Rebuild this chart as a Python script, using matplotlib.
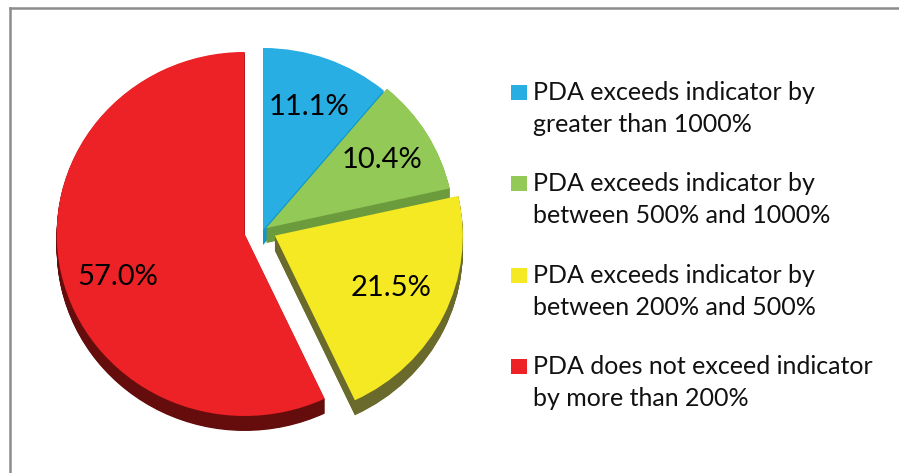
import matplotlib
matplotlib.use("Agg")
import matplotlib.pyplot as plt
from matplotlib.lines import Line2D
from matplotlib.patches import Rectangle

# ---- data ----
shares = [11.1, 10.4, 21.5, 57.0]
labels = [
    "PDA exceeds indicator by\ngreater than 1000%",
    "PDA exceeds indicator by\nbetween 500% and 1000%",
    "PDA exceeds indicator by\nbetween 200% and 500%",
    "PDA does not exceed indicator\nby more than 200%",
]
explode = [0.0, 0.02, 0.07, 0.1]

top_colors = ["#29AEE4", "#92C957", "#F4E923", "#EC2227"]
side_colors = ["#0D97CC", "#6B9B3C", "#6A6A2C", "#650D0D"]

W, H = 899, 473
fig = plt.figure(figsize=(W / 100, H / 100), dpi=100)
fig.patch.set_facecolor("white")

# pie axes geometry (pixel scale per unit)
sx, sy = 188.0, 182.0
cx, cy = 263.0, 473 - 230.0
xl = (-1.35, 1.35)
yl = (-1.3, 1.25)
left = cx + xl[0] * sx
bottom = cy + yl[0] * sy
ax = fig.add_axes([left / W, bottom / H, (xl[1] - xl[0]) * sx / W, (yl[1] - yl[0]) * sy / H])

depth = 15.0 / sy
N = 24
for k in range(N, 0, -1):
    ax.pie(shares, explode=explode, colors=side_colors, startangle=90,
           counterclock=False, center=(0, -depth * k / N), radius=1.0,
           wedgeprops=dict(linewidth=0))

wedges, texts, autotexts = ax.pie(
    shares, explode=explode, colors=top_colors, startangle=90,
    counterclock=False, center=(0, 0), radius=1.0,
    autopct="%.1f%%", pctdistance=0.72,
    wedgeprops=dict(linewidth=0),
    textprops=dict(fontsize=21, family=["Lato", "DejaVu Sans"], color="black"))
# small nudges to match the label placement of the original
px, py = autotexts[3].get_position()
autotexts[3].set_position((px + 0.03, py - 0.08))
px, py = autotexts[2].get_position()
autotexts[2].set_position((px - 0.03, py + 0.03))

ax.set_aspect("auto")
ax.set_xlim(*xl)
ax.set_ylim(*yl)
ax.axis("off")

# legend (manual)
font = ["Lato", "DejaVu Sans"]
entry_base = [100, 191, 283, 374]
line_gap = 32
for i, lab in enumerate(labels):
    lines = lab.split("\n")
    for j, ln in enumerate(lines):
        fig.text(533 / W, 1 - (entry_base[i] + j * line_gap) / H, ln,
                 fontsize=18, family=font, color="#111111", va="baseline", ha="left")
    fig.patches.append(Rectangle((511 / W, 1 - entry_base[i] / H), 16 / W, 15 / H,
                                 transform=fig.transFigure, facecolor=top_colors[i],
                                 edgecolor="none"))

# chart border (top & left visible)
fig.add_artist(Line2D([9.5 / W, 9.5 / W], [0, 1 - 8.5 / H], transform=fig.transFigure,
                      color="#8c8c8c", linewidth=1.8))
fig.add_artist(Line2D([9.5 / W, 1], [1 - 8.5 / H, 1 - 8.5 / H], transform=fig.transFigure,
                      color="#8c8c8c", linewidth=1.8))

fig.savefig("out.png", dpi=100)
